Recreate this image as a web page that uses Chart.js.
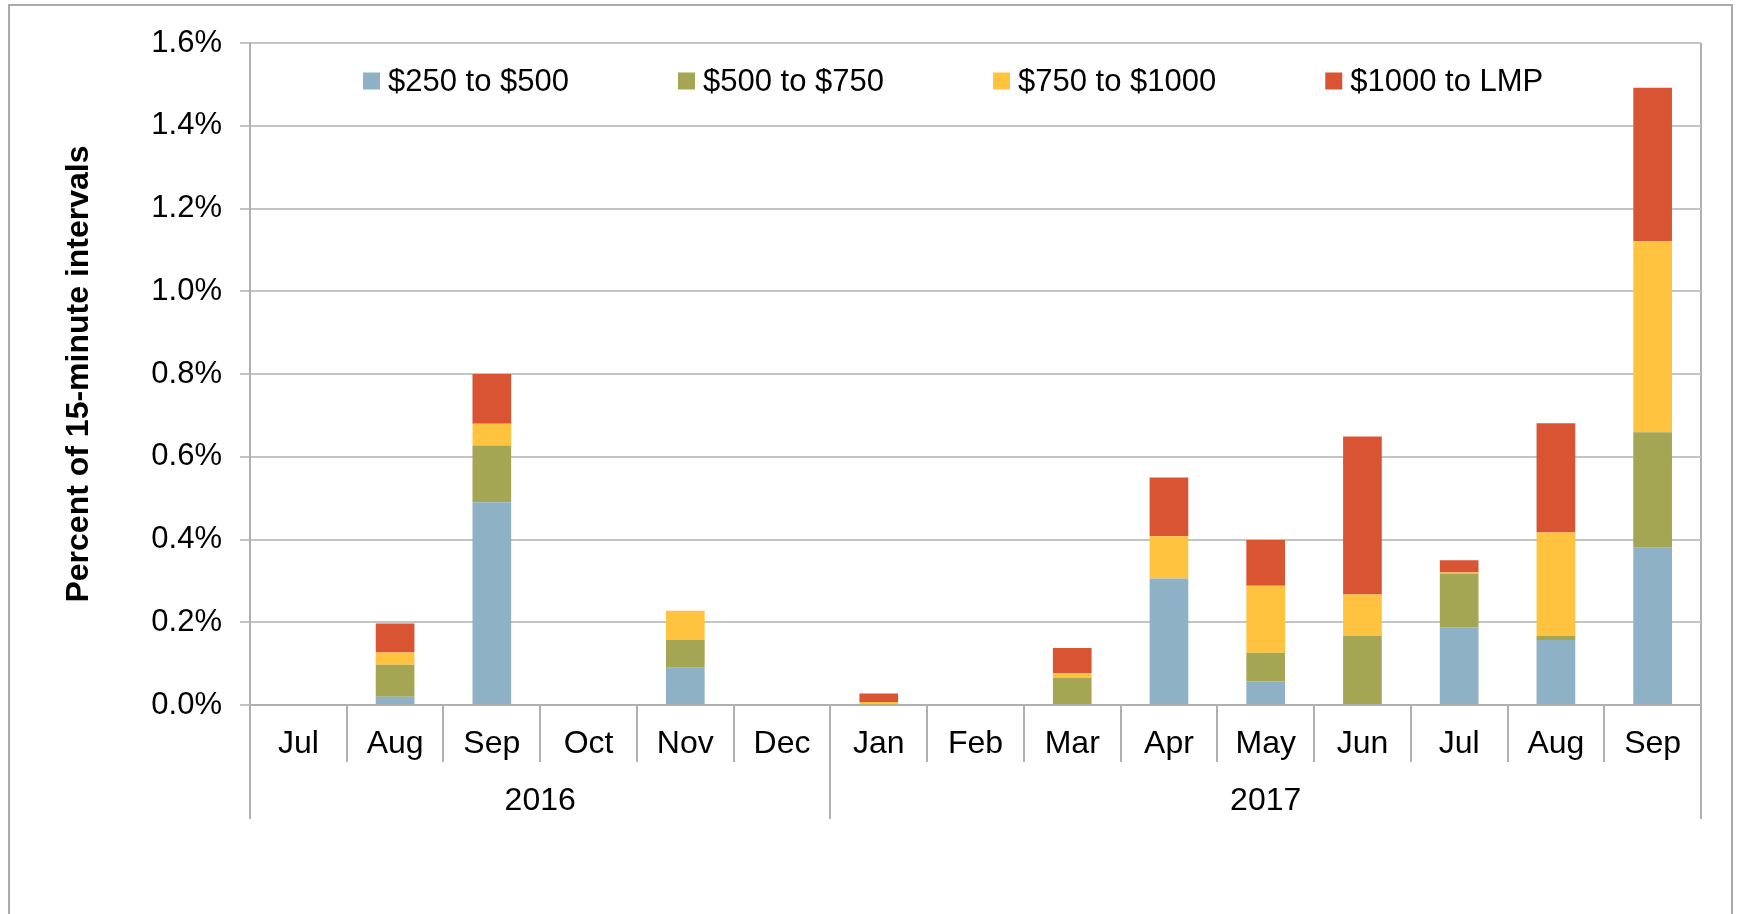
<!DOCTYPE html>
<html>
<head>
<meta charset="utf-8">
<script src="https://cdn.jsdelivr.net/npm/chart.js@4/dist/chart.umd.min.js"></script>
<style>
  html, body { margin: 0; padding: 0; background: #fff; overflow: hidden; }
  #wrap { position: relative; width: 1741px; height: 914px; }
  #frame { position: absolute; left: 8px; top: 4px; width: 1725px; height: 1000px; border: 2px solid #ababab; box-sizing: border-box; pointer-events: none; }
  canvas { position: absolute; left: 0; top: 0; }
</style>
</head>
<body>
<div id="wrap">
  <canvas id="c" width="1741" height="914"></canvas>
  <div id="frame"></div>
</div>
<script>
// ---- data ----
const months = ['Jul','Aug','Sep','Oct','Nov','Dec','Jan','Feb','Mar','Apr','May','Jun','Jul','Aug','Sep'];
const yearLabels = ['2016', '2017'];
const yearSpans = [6, 9];
const seriesNames = ['$250 to $500', '$500 to $750', '$750 to $1000', '$1000 to LMP'];
const s250to500  = [0, 0.020, 0.490, 0, 0.090, 0, 0,     0, 0,     0.306, 0.057, 0,     0.188, 0.157, 0.380];
const s500to750  = [0, 0.077, 0.137, 0, 0.068, 0, 0.002, 0, 0.066, 0,     0.069, 0.167, 0.130, 0.010, 0.279];
const s750to1000 = [0, 0.030, 0.053, 0, 0.070, 0, 0.005, 0, 0.011, 0.102, 0.162, 0.100, 0.002, 0.250, 0.462];
const s1000toLMP = [0, 0.070, 0.120, 0, 0,     0, 0.021, 0, 0.061, 0.142, 0.111, 0.382, 0.030, 0.264, 0.371];
const yMin = 0, yMax = 1.6, yStep = 0.2;

// ---- styles ----
const colors = ['#8EB1C5', '#A5A653', '#FFC340', '#D95433'];
const FONT = '"Liberation Sans", Arial, Helvetica, sans-serif';
const gridColor = '#c4c4c4';
const axisColor = '#b0b0b0';

const seriesValues = [s250to500, s500to750, s750to1000, s1000toLMP];

const insideLegend = {
  id: 'insideLegend',
  afterDraw(chart, args, opts) {
    const ctx = chart.ctx;
    ctx.save();
    ctx.font = opts.fontSize + 'px ' + FONT;
    ctx.textBaseline = 'middle';
    ctx.textAlign = 'left';
    let x = opts.startX;
    chart.data.datasets.forEach(ds => {
      ctx.fillStyle = ds.backgroundColor;
      ctx.fillRect(x, opts.y - opts.box / 2, opts.box, opts.box);
      x += opts.box + opts.textGap;
      ctx.fillStyle = '#000';
      ctx.fillText(ds.label, x, opts.y + 1);
      x += ctx.measureText(ds.label).width + opts.itemGap;
    });
    ctx.restore();
  }
};

const yearGroups = {
  id: 'yearGroups',
  afterDraw(chart, args, opts) {
    const xs = chart.scales.x;
    const ctx = chart.ctx;
    const half = (xs.getPixelForTick(1) - xs.getPixelForTick(0)) / 2;
    const bottom = chart.chartArea.bottom;
    ctx.save();
    ctx.strokeStyle = axisColor;
    ctx.lineWidth = 2;
    let idx = 0;
    const edges = [0];
    yearSpans.forEach(n => { idx += n; edges.push(idx); });
    edges.forEach(e => {
      const px = e < months.length ? xs.getPixelForTick(e) - half : xs.getPixelForTick(months.length - 1) + half;
      const p = Math.round(px);
      ctx.beginPath();
      ctx.moveTo(p, bottom);
      ctx.lineTo(p, bottom + opts.lineLen);
      ctx.stroke();
    });
    ctx.font = opts.fontSize + 'px ' + FONT;
    ctx.fillStyle = '#000';
    ctx.textAlign = 'center';
    ctx.textBaseline = 'middle';
    yearLabels.forEach((lab, i) => {
      const a = xs.getPixelForTick(edges[i]);
      const b = xs.getPixelForTick(edges[i + 1] - 1);
      ctx.fillText(lab, (a + b) / 2, bottom + opts.labelOffset);
    });
    ctx.restore();
  }
};

const datasets = seriesNames.map((name, i) => ({
  label: name,
  data: seriesValues[i],
  backgroundColor: colors[i],
  borderWidth: 0,
  barPercentage: 0.4,
  categoryPercentage: 1.0
}));

new Chart(document.getElementById('c'), {
  type: 'bar',
  data: { labels: months, datasets },
  plugins: [insideLegend, yearGroups],
  options: {
    responsive: false,
    animation: false,
    devicePixelRatio: 1,
    layout: { padding: { left: 10, right: 40, top: 43, bottom: 149 } },
    plugins: {
      legend: { display: false },
      tooltip: { enabled: false },
      insideLegend: { startX: 363, y: 81, box: 17, textGap: 8, itemGap: 109, fontSize: 31 },
      yearGroups: { lineLen: 114, labelOffset: 96, fontSize: 32 }
    },
    scales: {
      x: {
        stacked: true,
        offset: true,
        grid: {
          offset: true,
          drawOnChartArea: true,
          color: c => (c.tick ? 'rgba(0,0,0,0)' : axisColor),
          lineWidth: 2,
          tickColor: axisColor,
          tickWidth: 2,
          tickLength: 57
        },
        border: { display: true, color: axisColor, width: 2 },
        ticks: {
          font: { family: FONT, size: 32 },
          color: '#000',
          padding: -37,
          maxRotation: 0,
          autoSkip: false
        },
        afterFit: s => { s.height = 60; }
      },
      y: {
        stacked: true,
        min: yMin,
        max: yMax,
        ticks: {
          stepSize: yStep,
          callback: v => Number(v).toFixed(1) + '%',
          font: { family: FONT, size: 31 },
          color: '#000',
          padding: 18
        },
        grid: { color: gridColor, lineWidth: 2, tickLength: 10, tickColor: gridColor, tickWidth: 2 },
        border: { display: true, color: axisColor, width: 2 },
        title: {
          display: true,
          text: 'Percent of 15-minute intervals',
          font: { family: FONT, size: 32, weight: 'bold' },
          color: '#000',
          padding: { top: 50, bottom: 0 }
        },
        afterFit: s => { s.width = 240; }
      }
    }
  }
});
</script>
</body>
</html>
